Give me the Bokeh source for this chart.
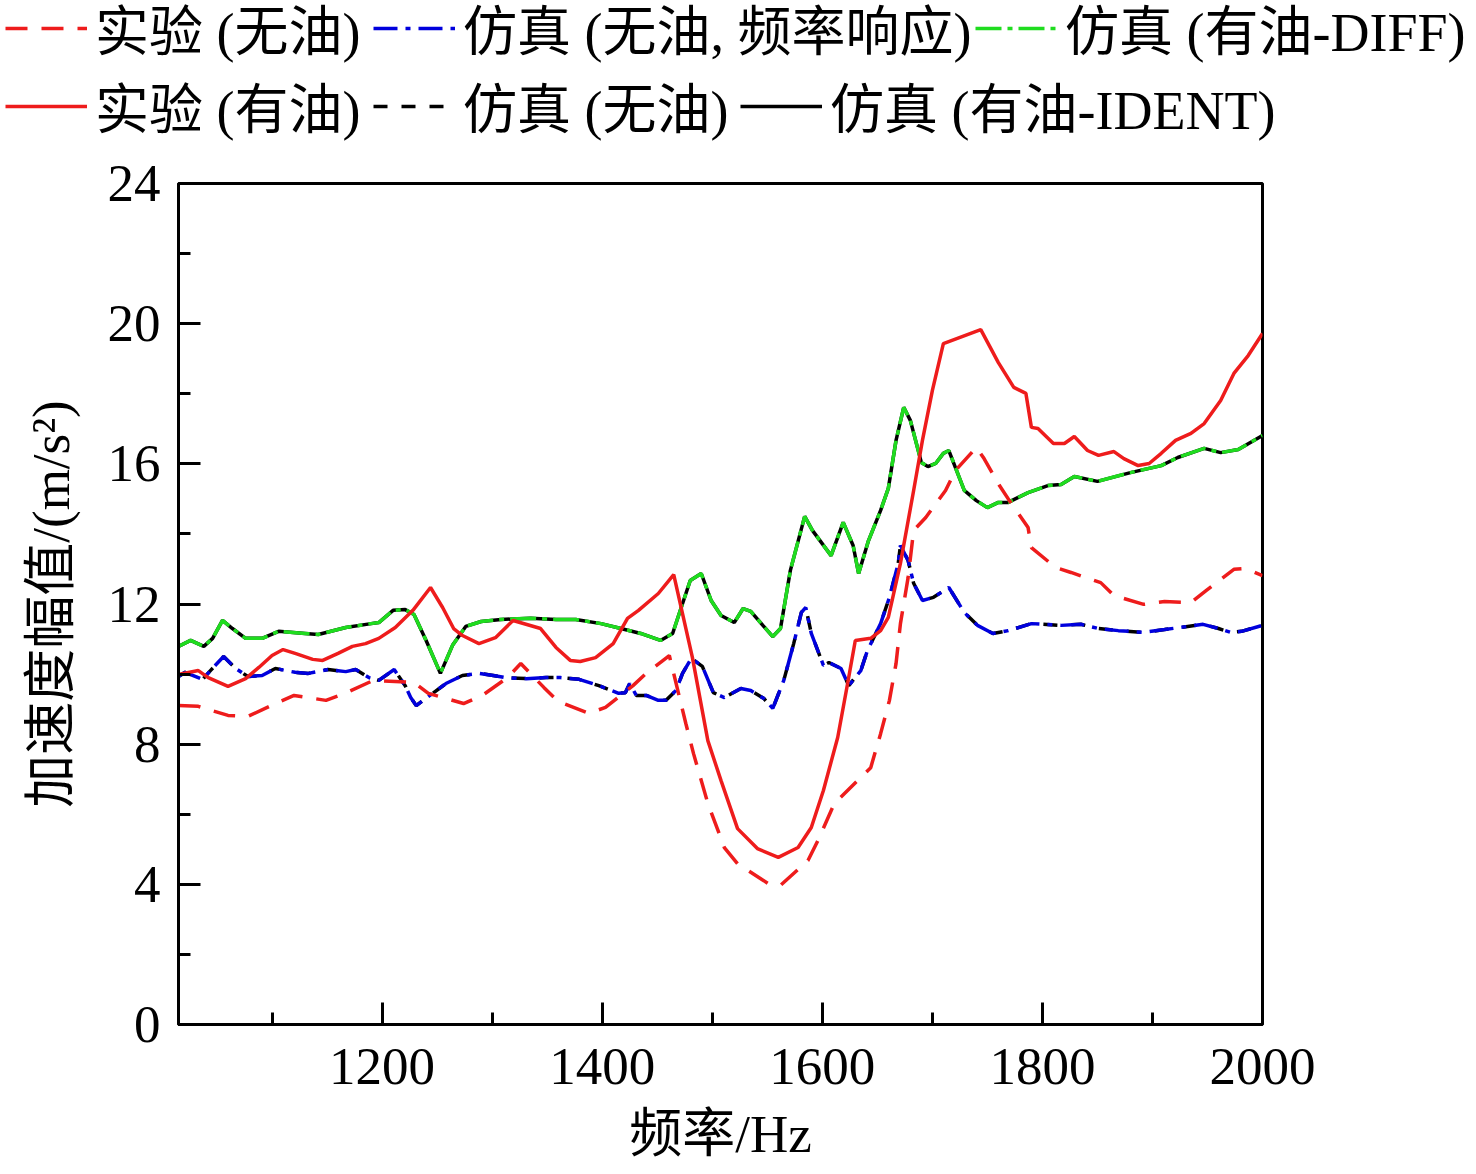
from bokeh.plotting import figure
from bokeh.layouts import column
from bokeh.models import Range1d, Legend, LegendItem, FixedTicker
from bokeh.embed import file_html
from bokeh.resources import INLINE

# ---------------- data ----------------
# 仿真 (有油-DIFF) and 仿真 (有油-IDENT) coincide
sim_oil_f = [1015, 1026, 1038, 1046, 1055, 1064, 1076, 1091, 1106, 1130, 1142, 1167, 1190, 1197,
             1210, 1221, 1229, 1240, 1253, 1264, 1276, 1290, 1308, 1335, 1358, 1376, 1399, 1417,
             1435, 1453, 1464, 1471, 1480, 1490, 1499, 1508, 1520, 1528, 1535, 1546, 1555, 1562,
             1571, 1584, 1591, 1608, 1619, 1628, 1633, 1642, 1653, 1660, 1667, 1674, 1680, 1690,
             1696, 1703, 1710, 1715, 1729, 1740, 1750, 1760, 1769, 1787, 1805, 1817, 1829, 1850,
             1880, 1908, 1923, 1947, 1962, 1978, 2000]
sim_oil_v = [10.79, 10.96, 10.79, 11.02, 11.53, 11.30, 11.02, 11.02, 11.22, 11.16, 11.13, 11.33,
             11.44, 11.47, 11.82, 11.84, 11.70, 10.96, 10.02, 10.82, 11.36, 11.50, 11.56, 11.59,
             11.56, 11.56, 11.44, 11.30, 11.16, 10.96, 11.16, 11.82, 12.67, 12.87, 12.10, 11.67,
             11.47, 11.87, 11.79, 11.39, 11.07, 11.30, 12.96, 14.50, 14.10, 13.38, 14.33, 13.67,
             12.87, 13.81, 14.67, 15.30, 16.67, 17.61, 17.24, 16.04, 15.92, 16.01, 16.30, 16.38,
             15.24, 14.95, 14.75, 14.90, 14.90, 15.18, 15.38, 15.41, 15.64, 15.50, 15.75, 15.95,
             16.18, 16.44, 16.32, 16.41, 16.81]

# 实验 (有油)
exp_oil_f = [1015, 1033, 1042, 1060, 1076, 1088, 1100, 1110, 1121, 1137, 1146, 1160, 1173, 1185,
             1197, 1212, 1228, 1244, 1255, 1265, 1273, 1288, 1303, 1319, 1344, 1358, 1371, 1380,
             1394, 1410, 1423, 1433, 1451, 1465, 1482, 1496, 1508, 1523, 1541, 1560, 1578, 1590,
             1601, 1614, 1623, 1630, 1644, 1653, 1660, 1671, 1683, 1691, 1700, 1710, 1744, 1760,
             1774, 1785, 1790, 1796, 1810, 1820, 1829, 1841, 1851, 1865, 1874, 1887, 1897, 1908,
             1921, 1935, 1947, 1962, 1974, 1987, 2000]
exp_oil_v = [9.99, 10.10, 9.90, 9.65, 9.87, 10.19, 10.53, 10.70, 10.59, 10.42, 10.39, 10.59, 10.79,
             10.87, 11.02, 11.33, 11.82, 12.47, 11.90, 11.30, 11.10, 10.87, 11.04, 11.53, 11.30,
             10.76, 10.39, 10.36, 10.47, 10.87, 11.59, 11.82, 12.30, 12.84, 10.47, 8.10, 6.96,
             5.59, 5.02, 4.77, 5.05, 5.62, 6.68, 8.19, 9.73, 10.96, 11.02, 11.24, 11.62, 13.16,
             15.24, 16.67, 18.09, 19.43, 19.83, 18.89, 18.18, 18.01, 17.04, 17.01, 16.58, 16.58,
             16.78, 16.38, 16.24, 16.35, 16.15, 15.95, 16.01, 16.30, 16.67, 16.87, 17.15, 17.81,
             18.58, 19.09, 19.72]

# 实验 (无油)
exp_dry_f = [1015, 1033, 1060, 1078, 1103, 1120, 1149, 1164, 1192, 1229, 1242, 1274, 1291, 1314,
             1326, 1347, 1360, 1388, 1403, 1428, 1440, 1461, 1476, 1483, 1496, 1511, 1523, 1551,
             1562, 1587, 1596, 1611, 1632, 1644, 1653, 1661, 1667, 1671, 1678, 1683, 1694, 1712,
             1721, 1740, 1747, 1761, 1770, 1787, 1790, 1812, 1826, 1853, 1865, 1892, 1911, 1935,
             1949, 1974, 1985, 2000]
exp_dry_v = [9.10, 9.08, 8.82, 8.79, 9.16, 9.39, 9.25, 9.42, 9.82, 9.76, 9.45, 9.16, 9.39, 9.90,
             10.30, 9.62, 9.22, 8.88, 9.05, 9.67, 10.02, 10.53, 8.59, 7.73, 6.31, 5.05, 4.59, 4.02,
             3.97, 4.68, 5.25, 6.31, 6.96, 7.33, 8.30, 9.25, 10.30, 11.44, 12.76, 14.10, 14.47,
             15.24, 15.81, 16.47, 16.15, 15.38, 14.95, 14.18, 13.61, 13.04, 12.90, 12.61, 12.24,
             11.99, 12.07, 12.04, 12.39, 12.99, 13.01, 12.81]

# 仿真 (无油, 频率响应) and 仿真 (无油) coincide
sim_dry_f = [1015, 1021, 1037, 1044, 1056, 1067, 1078, 1091, 1103, 1121, 1133, 1151, 1167, 1176,
             1188, 1197, 1211, 1221, 1226, 1231, 1246, 1258, 1273, 1288, 1301, 1312, 1331, 1349,
             1362, 1379, 1397, 1415, 1421, 1425, 1431, 1440, 1451, 1458, 1467, 1473, 1481, 1491,
             1501, 1511, 1526, 1535, 1547, 1555, 1565, 1574, 1581, 1585, 1590, 1601, 1606, 1617,
             1624, 1635, 1641, 1653, 1661, 1669, 1671, 1678, 1683, 1691, 1701, 1715, 1729, 1741,
             1755, 1769, 1790, 1817, 1835, 1851, 1869, 1892, 1911, 1932, 1946, 1960, 1971, 1981,
             2000]
sim_dry_v = [9.93, 10.05, 9.85, 10.10, 10.50, 10.16, 9.93, 9.96, 10.16, 10.05, 10.02, 10.13, 10.07,
             10.13, 9.90, 9.82, 10.13, 9.67, 9.33, 9.10, 9.45, 9.73, 9.96, 10.02, 9.96, 9.90, 9.87,
             9.90, 9.90, 9.85, 9.67, 9.45, 9.47, 9.73, 9.39, 9.39, 9.25, 9.25, 9.53, 10.02, 10.45,
             10.22, 9.47, 9.33, 9.59, 9.53, 9.30, 9.02, 9.82, 10.87, 11.76, 11.90, 11.16, 10.25,
             10.33, 10.16, 9.67, 10.10, 10.67, 11.44, 12.19, 13.16, 13.67, 13.24, 12.59, 12.10,
             12.19, 12.47, 11.76, 11.39, 11.16, 11.24, 11.44, 11.39, 11.42, 11.30, 11.24, 11.19,
             11.27, 11.36, 11.42, 11.30, 11.19, 11.22, 11.39]

x_major = [1200, 1400, 1600, 1800, 2000]
x_minor = [1100, 1300, 1500, 1700, 1900]
y_major = [0, 4, 8, 12, 16, 20, 24]
y_minor = [2, 6, 10, 14, 18, 22]

labels = ["实验 (无油)", "仿真 (无油, 频率响应)", "仿真 (有油-DIFF)",
          "实验 (有油)", "仿真 (无油)", "仿真 (有油-IDENT)"]

# ---------------- styles ----------------
FONT = "'Liberation Serif', 'Noto Sans CJK SC', serif"
FS = "53px"
LW = 3.5
RED, BLUE, GREEN = "#ee1c1c", "#0000dd", "#1fdc1f"
st_ident = dict(line_color="black", line_width=LW)
st_diff = dict(line_color=GREEN, line_width=LW, line_dash="26 6 5 6")
st_simdry = dict(line_color="black", line_width=LW, line_dash="14 14")
st_freq = dict(line_color=BLUE, line_width=LW, line_dash="24 8 5 8")
st_expdry = dict(line_color=RED, line_width=LW, line_dash="22 14")
st_expoil = dict(line_color=RED, line_width=LW)

W = 1470
LEG_H = 150

# ---------------- legend strip ----------------
lg = figure(width=W, height=LEG_H, output_backend="svg", toolbar_location=None,
            x_range=Range1d(0, 1), y_range=Range1d(0, 1),
            x_axis_location=None, y_axis_location=None,
            min_border=0, outline_line_color=None, frame_align=False)
lg.xgrid.visible = False
lg.ygrid.visible = False
leg_styles = [st_expdry, st_freq, st_diff, st_expoil, st_simdry, st_ident]
positions = [(5, 83), (373, 83), (975, 83), (5, 5), (373, 5), (740, 5)]
for stl, lab, loc in zip(leg_styles, labels, positions):
    # off-screen proxy line: only used to draw the legend swatch
    r = lg.line(x=[-5, -4], y=[-5, -4], **stl)
    leg = Legend(items=[LegendItem(label=lab, renderers=[r])], location=loc,
                 orientation="horizontal", padding=0, margin=0, spacing=0,
                 label_standoff=8, glyph_width=82, glyph_height=60, label_height=60,
                 border_line_alpha=0, background_fill_alpha=0,
                 label_text_font=FONT, label_text_font_size="54px", label_text_color="black")
    lg.add_layout(leg, "center")

# ---------------- main plot ----------------
p = figure(width=W, height=1174 - LEG_H, output_backend="svg", toolbar_location=None,
           x_range=Range1d(1015, 2000), y_range=Range1d(0, 24),
           min_border_left=178, min_border_right=W - 1262, min_border_top=183 - LEG_H,
           min_border_bottom=1174 - 1024, frame_align=False)
p.xgrid.visible = False
p.ygrid.visible = False
p.outline_line_color = "black"
p.outline_line_width = 3

p.line(sim_oil_f, sim_oil_v, **st_ident)
p.line(sim_oil_f, sim_oil_v, **st_diff)
p.line(sim_dry_f, sim_dry_v, **st_simdry)
p.line(sim_dry_f, sim_dry_v, **st_freq)
p.line(exp_dry_f, exp_dry_v, **st_expdry)
p.line(exp_oil_f, exp_oil_v, **st_expoil)

for ax in (p.xaxis[0], p.yaxis[0]):
    ax.axis_line_width = 3
    ax.major_tick_line_width = 3
    ax.minor_tick_line_width = 3
    ax.major_tick_in = 22
    ax.major_tick_out = 0
    ax.minor_tick_in = 12
    ax.minor_tick_out = 0
    ax.major_label_text_font = FONT
    ax.major_label_text_font_size = FS
    ax.major_label_text_color = "black"
    ax.axis_label_text_font = FONT
    ax.axis_label_text_font_size = FS
    ax.axis_label_text_font_style = "normal"
    ax.axis_label_text_color = "black"

p.xaxis.ticker = FixedTicker(ticks=x_major, minor_ticks=x_minor)
p.yaxis.ticker = FixedTicker(ticks=y_major, minor_ticks=y_minor)
p.xaxis.axis_label = "频率/Hz"
p.yaxis.axis_label = "加速度幅值/(m/s²)"
p.xaxis.major_label_standoff = 24
p.yaxis.major_label_standoff = 18
p.xaxis.axis_label_standoff = 18
p.yaxis.axis_label_standoff = 25

layout = column(lg, p, spacing=0)
open("out.html", "w").write(file_html(layout, INLINE))
